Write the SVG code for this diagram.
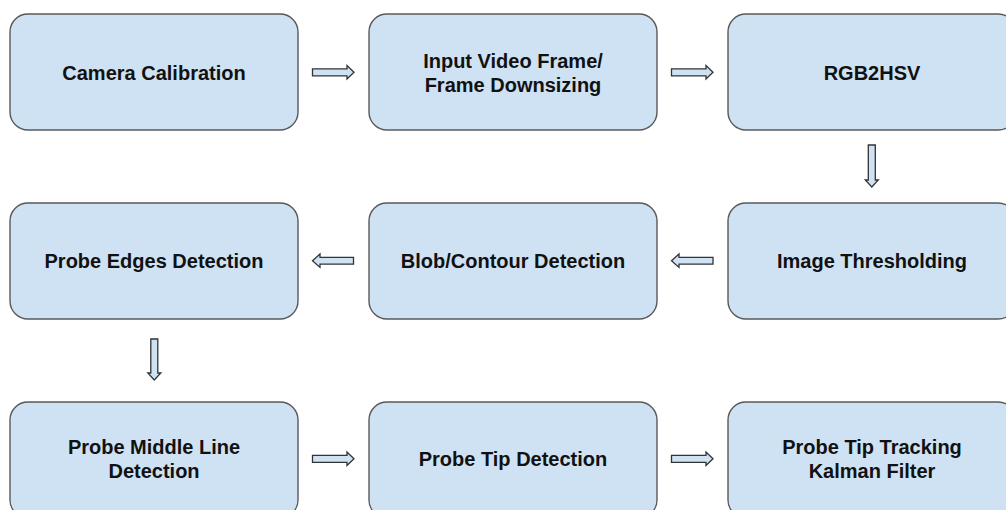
<svg xmlns="http://www.w3.org/2000/svg" width="1006" height="510" viewBox="0 0 1006 510">
<style>
.box{fill:#cfe2f3;stroke:#595959;stroke-width:1.4}
.t{font-family:"Liberation Sans",Arial,sans-serif;font-weight:bold;font-size:20px;fill:#111;text-anchor:middle}
.arr{fill:#cfe2f3;stroke:#333;stroke-width:1.3;stroke-linejoin:miter}
</style>
<rect width="1006" height="510" fill="#fff"/>
<g id="n1"><rect class="box" x="10" y="14" width="288" height="116" rx="18"/><text class="t" x="154" y="80">Camera Calibration</text></g>
<g id="n2"><rect class="box" x="369" y="14" width="288" height="116" rx="18"/><text class="t" x="513" y="68">Input Video Frame/</text><text class="t" x="513" y="92">Frame Downsizing</text></g>
<g id="n3"><rect class="box" x="728" y="14" width="288" height="116" rx="18"/><text class="t" x="872" y="80">RGB2HSV</text></g>
<g id="n4"><rect class="box" x="728" y="203" width="288" height="116" rx="18"/><text class="t" x="872" y="268">Image Thresholding</text></g>
<g id="n5"><rect class="box" x="369" y="203" width="288" height="116" rx="18"/><text class="t" x="513" y="268">Blob/Contour Detection</text></g>
<g id="n6"><rect class="box" x="10" y="203" width="288" height="116" rx="18"/><text class="t" x="154" y="268">Probe Edges Detection</text></g>
<g id="n7"><rect class="box" x="10" y="402" width="288" height="116" rx="18"/><text class="t" x="154" y="454">Probe Middle Line</text><text class="t" x="154" y="478">Detection</text></g>
<g id="n8"><rect class="box" x="369" y="402" width="288" height="116" rx="18"/><text class="t" x="513" y="466">Probe Tip Detection</text></g>
<g id="n9"><rect class="box" x="728" y="402" width="288" height="116" rx="18"/><text class="t" x="872" y="454">Probe Tip Tracking</text><text class="t" x="872" y="478">Kalman Filter</text></g>
<g id="connectors">
<path class="arr" d="M312.5,68.8 H347 V65.6 L354,72.3 L347,79 V75.8 H312.5 Z"/>
<path class="arr" d="M671.5,68.8 H706 V65.6 L713,72.3 L706,79 V75.8 H671.5 Z"/>
<path class="arr" d="M868.3,145 V180 H865.3 L871.8,187 L878.3,180 H875.3 V145 Z"/>
<path class="arr" d="M713,257.3 H679 V254 L671.5,260.7 L679,267.4 V264.1 H713 Z"/>
<path class="arr" d="M353.5,257.3 H320 V254 L312.5,260.7 L320,267.4 V264.1 H353.5 Z"/>
<path class="arr" d="M150.8,339 V373 H147.8 L154.3,380 L160.8,373 H157.8 V339 Z"/>
<path class="arr" d="M312.5,455.3 H347 V452.1 L354,458.8 L347,465.5 V462.3 H312.5 Z"/>
<path class="arr" d="M671.5,455.3 H706 V452.1 L713,458.8 L706,465.5 V462.3 H671.5 Z"/>
</g>
</svg>
